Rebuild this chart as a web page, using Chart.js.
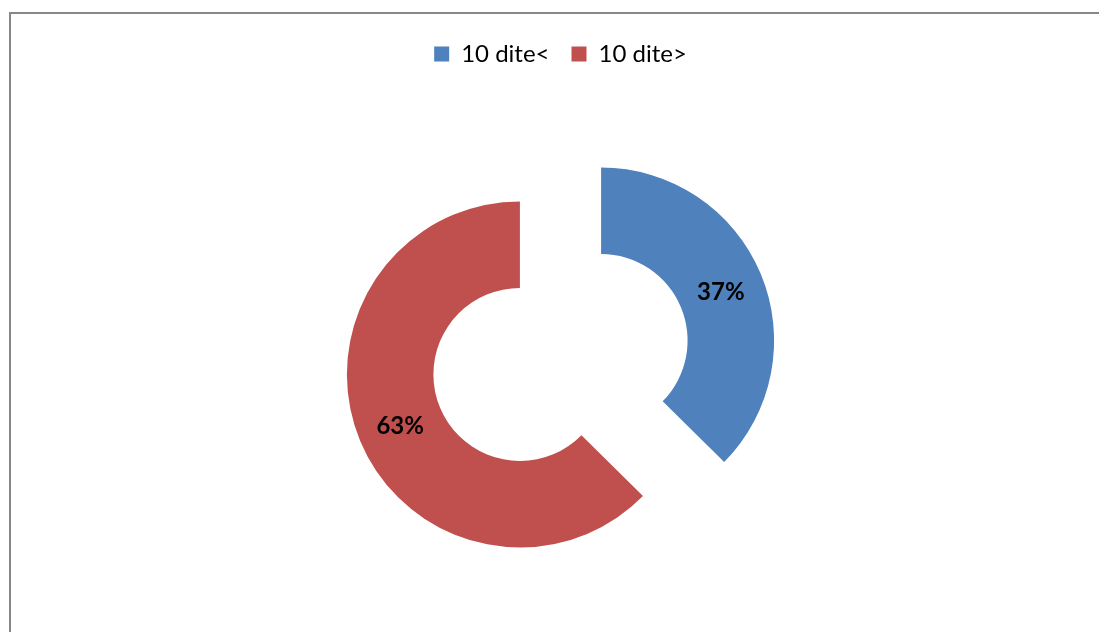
<!DOCTYPE html>
<html><head><meta charset="utf-8">
<script src="https://cdn.jsdelivr.net/npm/chart.js@4.4.0/dist/chart.umd.min.js"></script>
<style>
html,body{margin:0;padding:0;background:#fff;overflow:hidden;width:1099px;height:632px;}
#frame{position:absolute;left:9px;top:12px;width:1200px;height:700px;border-top:2px solid #878787;border-left:2px solid #878787;}
canvas{position:absolute;left:0;top:0;}
</style></head><body>
<div id="frame"></div>
<canvas id="c" width="1099" height="646"></canvas>
<script>
const categories = ['10 dite<', '10 dite>'];
const values = [37.4, 62.6];
const colors = ['#4F81BD', '#C0504D'];
const EXPLODE = 44;

const explodePlugin = {
  id: 'explode',
  afterDatasetsUpdate(chart) {
    chart.getDatasetMeta(0).data.forEach(arc => {
      const mid = (arc.startAngle + arc.endAngle) / 2;
      arc.x += Math.cos(mid) * EXPLODE;
      arc.y += Math.sin(mid) * EXPLODE;
    });
  }
};

const labelPlugin = {
  id: 'sliceLabels',
  afterDatasetsDraw(chart) {
    const ctx = chart.ctx;
    const meta = chart.getDatasetMeta(0);
    const total = values.reduce((a, b) => a + b, 0);
    ctx.save();
    ctx.font = 'bold 24px Lato';
    ctx.fillStyle = '#000';
    ctx.textAlign = 'center';
    ctx.textBaseline = 'middle';
    meta.data.forEach((arc, i) => {
      const p = arc.tooltipPosition();
      ctx.fillText(Math.round(values[i] / total * 100) + '%', p.x, p.y + 2);
    });
    ctx.restore();
  }
};

new Chart(document.getElementById('c'), {
  type: 'doughnut',
  data: {
    labels: categories,
    datasets: [{ data: values, backgroundColor: colors, borderWidth: 0 }]
  },
  options: {
    responsive: false,
    animation: false,
    devicePixelRatio: 1,
    radius: 173,
    cutout: '50%',
    layout: { padding: { left: 22, right: 0, top: 20, bottom: 7 } },
    plugins: {
      legend: {
        position: 'top',
        labels: { font: { family: 'Lato', size: 24 }, color: '#000', boxWidth: 15, boxHeight: 15, padding: 22 }
      },
      tooltip: { enabled: false }
    }
  },
  plugins: [explodePlugin, labelPlugin]
});
</script>
</body></html>
